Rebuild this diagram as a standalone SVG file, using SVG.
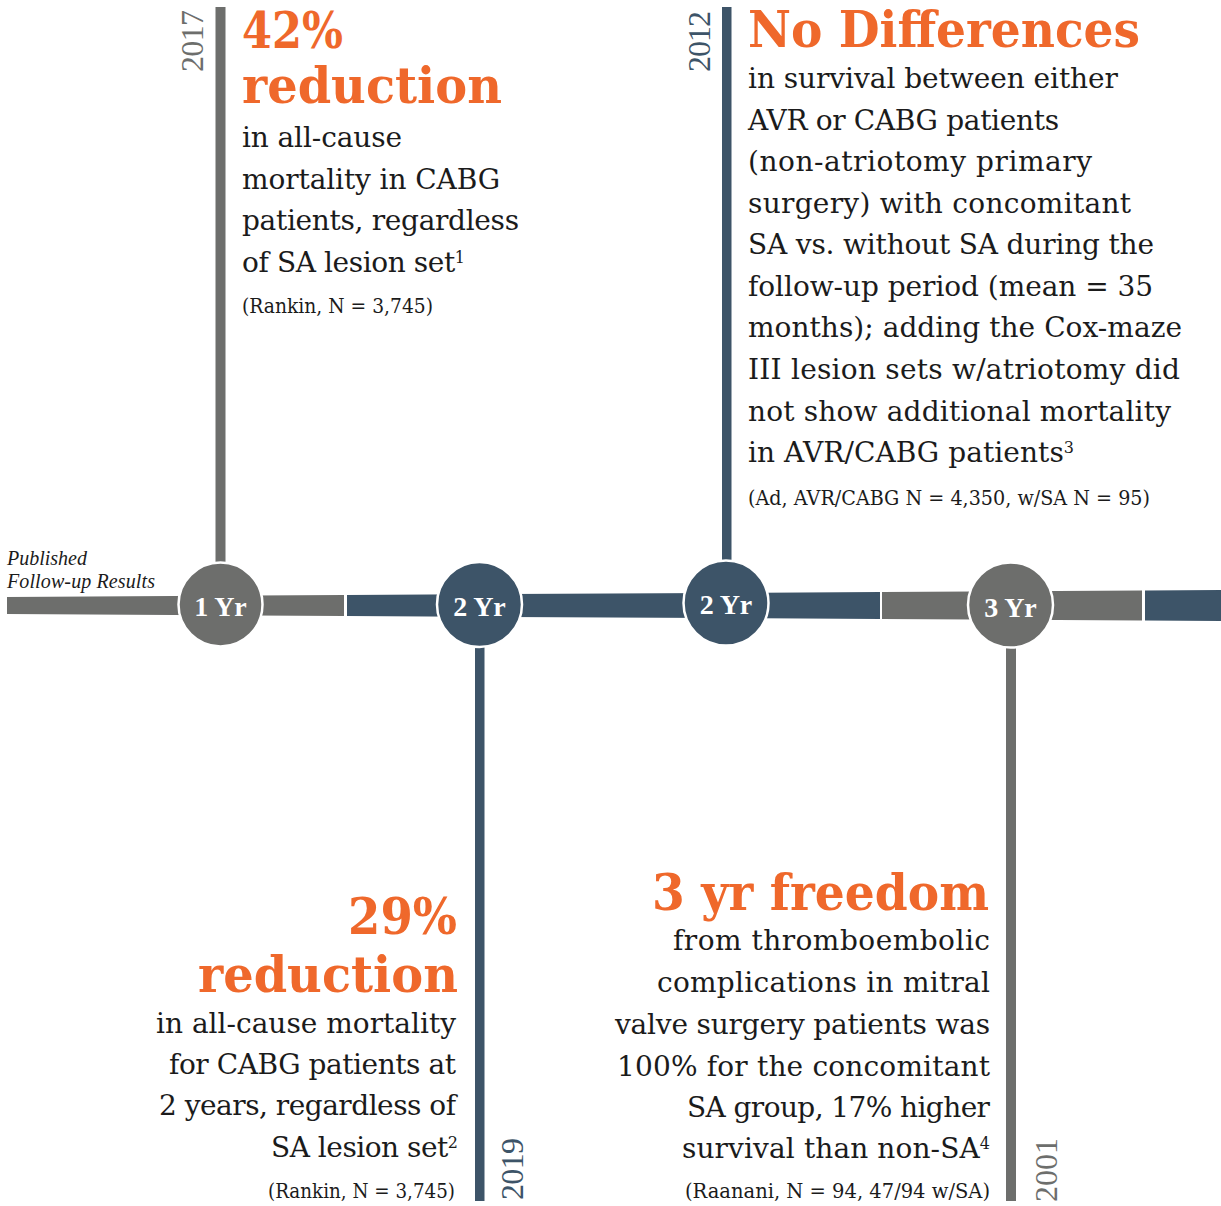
<svg xmlns="http://www.w3.org/2000/svg" width="1221" height="1206" viewBox="0 0 1221 1206">
  <style>
    .body { font-family: "DejaVu Serif", "Liberation Serif", serif; font-size: 28px; fill: #1b1b1b; }
    .cite { font-family: "DejaVu Serif", "Liberation Serif", serif; font-size: 20.5px; fill: #1b1b1b; }
    .head { font-family: "DejaVu Serif", "Liberation Serif", serif; font-weight: bold; font-size: 50px; fill: #ef682b; }
    .sup { font-size: 16px; }
    .year { font-family: "Liberation Serif", "DejaVu Serif", serif; font-size: 32px; }
    .lbl { font-family: "Liberation Serif", "DejaVu Serif", serif; font-weight: bold; font-size: 28px; fill: #ffffff; text-anchor: middle; }
    .note { font-family: "Liberation Serif", "DejaVu Serif", serif; font-style: italic; font-size: 20px; fill: #1b1b1b; }
    .gray { fill: #6d6e6c; }
    .blue { fill: #3d5468; }
    .dot { stroke: #ffffff; stroke-width: 2.5; }
  </style>

  <rect width="1221" height="1206" fill="#ffffff"/>

  <!-- timeline bar and stems -->
  <g id="connectors">
    <polygon class="gray" points="7,597 344,595 344,616 7,614"/>
    <polygon class="blue" points="347,595 880,592 880,619 347,616"/>
    <polygon class="gray" points="882,592 1142,590.5 1142,620.5 882,619"/>
    <polygon class="blue" points="1145,590.5 1221,590 1221,621 1145,620.5"/>
    <rect class="gray" x="215.5" y="7" width="10" height="560"/>
    <rect class="blue" x="722" y="7" width="9.5" height="558"/>
    <rect class="blue" x="475" y="640" width="9.5" height="561"/>
    <rect class="gray" x="1006" y="640" width="10" height="561"/>
  </g>

  <text class="note" x="7" y="565">Published</text>
  <text class="note" x="7" y="588" textLength="148">Follow-up Results</text>

  <!-- milestone nodes -->
  <g id="node-2017">
    <circle class="gray dot" cx="220.5" cy="604.5" r="42"/>
    <text class="lbl" x="220.5" y="616">1 Yr</text>
    <text class="year gray" transform="translate(203,72) rotate(-90)" textLength="62">2017</text>
    <text class="head" x="242" y="48" textLength="101" lengthAdjust="spacingAndGlyphs">42%</text>
    <text class="head" x="242" y="103" textLength="260" lengthAdjust="spacingAndGlyphs">reduction</text>
    <text class="body" x="242" y="147" textLength="160">in all-cause</text>
    <text class="body" x="242" y="189" textLength="258">mortality in CABG</text>
    <text class="body" x="242" y="230" textLength="277">patients, regardless</text>
    <text class="body" x="242" y="272" textLength="223">of SA lesion set<tspan class="sup" dy="-9">1</tspan></text>
    <text class="cite" x="242" y="313" textLength="191" lengthAdjust="spacingAndGlyphs">(Rankin, N = 3,745)</text>
  </g>

  <g id="node-2019">
    <circle class="blue dot" cx="479.5" cy="604.5" r="42.5"/>
    <text class="lbl" x="479.5" y="616">2 Yr</text>
    <text class="year blue" transform="translate(523,1200) rotate(-90)" textLength="62">2019</text>
    <g text-anchor="end">
      <text class="head" x="457" y="934" textLength="109" lengthAdjust="spacingAndGlyphs">29%</text>
      <text class="head" x="458" y="992" textLength="260" lengthAdjust="spacingAndGlyphs">reduction</text>
      <text class="body" x="456" y="1033" textLength="300">in all-cause mortality</text>
      <text class="body" x="456" y="1074" textLength="287">for CABG patients at</text>
      <text class="body" x="456" y="1115" textLength="297">2 years, regardless of</text>
      <text class="body" x="458" y="1157" textLength="187">SA lesion set<tspan class="sup" dy="-9">2</tspan></text>
      <text class="cite" x="455" y="1198" textLength="187" lengthAdjust="spacingAndGlyphs">(Rankin, N = 3,745)</text>
    </g>
  </g>

  <g id="node-2012">
    <circle class="blue dot" cx="726" cy="603" r="42.5"/>
    <text class="lbl" x="726" y="614">2 Yr</text>
    <text class="year blue" transform="translate(710,72) rotate(-90)" textLength="61">2012</text>
    <text class="head" x="748" y="47" textLength="392" lengthAdjust="spacingAndGlyphs">No Differences</text>
    <text class="body" x="748" y="88" textLength="370">in survival between either</text>
    <text class="body" x="748" y="130" textLength="311">AVR or CABG patients</text>
    <text class="body" x="748" y="171" textLength="344">(non-atriotomy primary</text>
    <text class="body" x="748" y="213" textLength="383">surgery) with concomitant</text>
    <text class="body" x="748" y="254" textLength="406">SA vs. without SA during the</text>
    <text class="body" x="748" y="296" textLength="405">follow-up period (mean = 35</text>
    <text class="body" x="748" y="337" textLength="434">months); adding the Cox-maze</text>
    <text class="body" x="748" y="379" textLength="432">III lesion sets w/atriotomy did</text>
    <text class="body" x="748" y="421" textLength="423">not show additional mortality</text>
    <text class="body" x="748" y="462" textLength="326">in AVR/CABG patients<tspan class="sup" dy="-9">3</tspan></text>
    <text class="cite" x="748" y="505" textLength="402" lengthAdjust="spacingAndGlyphs">(Ad, AVR/CABG N = 4,350, w/SA N = 95)</text>
  </g>

  <g id="node-2001">
    <circle class="gray dot" cx="1010.5" cy="605" r="42.5"/>
    <text class="lbl" x="1010.5" y="617">3 Yr</text>
    <text class="year gray" transform="translate(1057,1202) rotate(-90)" textLength="64">2001</text>
    <g text-anchor="end">
      <text class="head" x="989" y="910" textLength="337" lengthAdjust="spacingAndGlyphs">3 yr freedom</text>
      <text class="body" x="990" y="950" textLength="317">from thromboembolic</text>
      <text class="body" x="990" y="992" textLength="333">complications in mitral</text>
      <text class="body" x="990" y="1034" textLength="375">valve surgery patients was</text>
      <text class="body" x="990" y="1076" textLength="373">100% for the concomitant</text>
      <text class="body" x="990" y="1117" textLength="303">SA group, 17% higher</text>
      <text class="body" x="990" y="1158" textLength="308">survival than non-SA<tspan class="sup" dy="-9">4</tspan></text>
      <text class="cite" x="990" y="1198" textLength="305" lengthAdjust="spacingAndGlyphs">(Raanani, N = 94, 47/94 w/SA)</text>
    </g>
  </g>
</svg>
